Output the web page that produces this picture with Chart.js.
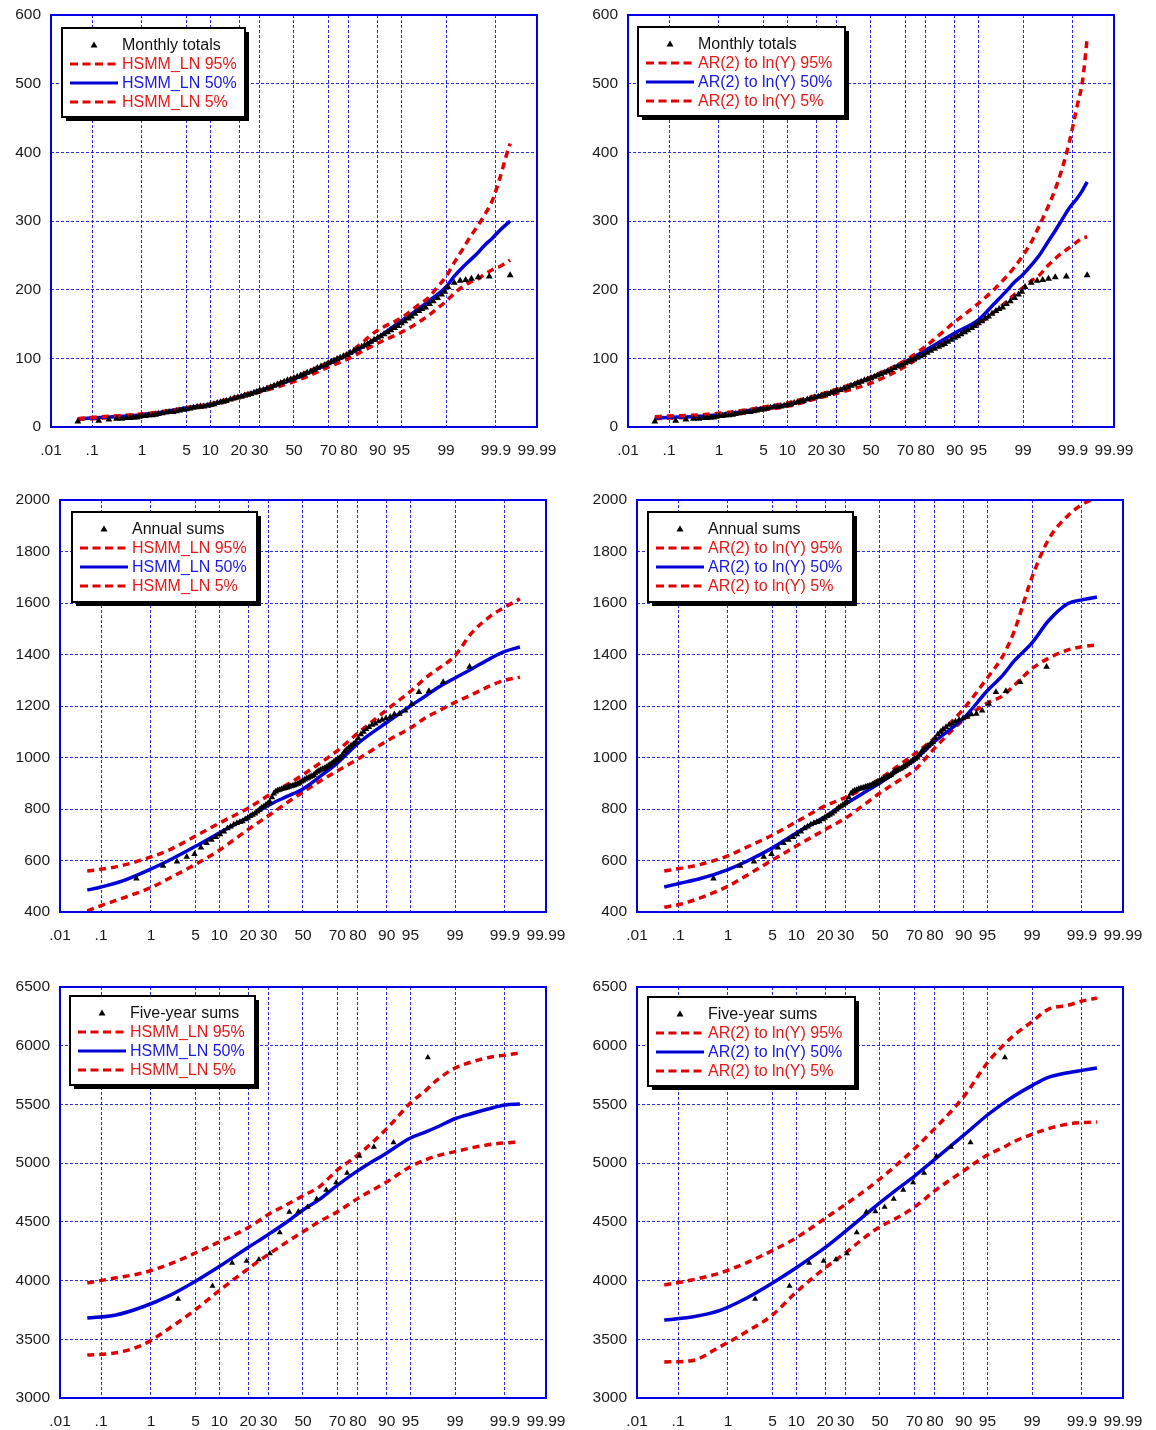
<!DOCTYPE html>
<html>
<head>
<meta charset="utf-8">
<script src="https://cdn.jsdelivr.net/npm/chart.js@4.4.1/dist/chart.umd.min.js"></script>
<style>
  body { margin: 0; background: #fff; width: 1156px; height: 1430px; position: relative; overflow: hidden; }
  .panel { position: absolute; }
</style>
</head>
<body>
<div class="panel" style="left:1px;top:0px"><canvas id="c0" width="561" height="465"></canvas></div>
<div class="panel" style="left:578px;top:0px"><canvas id="c1" width="561" height="465"></canvas></div>
<div class="panel" style="left:10px;top:485px"><canvas id="c2" width="561" height="465"></canvas></div>
<div class="panel" style="left:587px;top:485px"><canvas id="c3" width="561" height="465"></canvas></div>
<div class="panel" style="left:10px;top:972px"><canvas id="c4" width="561" height="464"></canvas></div>
<div class="panel" style="left:587px;top:972px"><canvas id="c5" width="561" height="464"></canvas></div>
<script>
// probability axis: ticks in percent, drawn on a normal-quantile scale
const X_TICK_P = [0.01, 0.1, 1, 5, 10, 20, 30, 50, 70, 80, 90, 95, 99, 99.9, 99.99];
const X_TICK_LABELS = ['.01', '.1', '1', '5', '10', '20', '30', '50', '70', '80', '90', '95', '99', '99.9', '99.99'];

// ---- monthly totals ----
const MONTHLY_OBS_P = [0.047, 0.14, 0.23, 0.33, 0.42, 0.52, 0.61, 0.7, 0.8, 0.9, 1.0, 1.15, 1.3, 1.5, 1.7, 1.9,
  2.2, 2.5, 2.8, 3.2, 3.6, 4.0, 4.5, 5.0, 5.6, 6.2, 6.9, 7.6, 8.4, 9.2, 10, 11, 12, 13, 14, 15, 16.5, 18, 19.5,
  21, 22.5, 24, 25.5, 27, 28.5, 30, 32, 34, 36, 38, 40, 42, 44, 46, 48, 50, 52, 54, 56, 58, 60, 62, 64, 66, 68,
  70, 71.5, 73, 74.5, 76, 77.5, 79, 80.5, 82, 83.5, 85, 86, 87, 88, 89, 90, 90.8, 91.6, 92.4, 93.1, 93.8, 94.4,
  95, 95.5, 96, 96.4, 96.8, 97.2, 97.5, 97.8, 98.1, 98.35, 98.6, 98.8, 98.95, 99.08, 99.29, 99.45, 99.57, 99.67,
  99.76, 99.86, 99.953];
const MONTHLY_OBS = [8, 9, 11, 12, 12, 13, 13, 14, 14, 15, 16, 16, 17, 17, 18, 19,
  20, 21, 22, 22, 23, 24, 25, 26, 27, 28, 29, 30, 30, 31, 32, 33, 35, 36, 37, 38, 40, 42, 43,
  44, 46, 47, 48, 50, 51, 53, 54, 56, 58, 60, 62, 64, 66, 68, 69, 71, 73, 75, 77, 79, 81, 83, 86, 88, 90,
  93, 95, 97, 99, 101, 103, 105, 108, 111, 114, 117, 119, 121, 124, 127, 130, 132, 135, 138, 141, 144, 147,
  151, 154, 158, 161, 165, 169, 172, 174, 179, 183, 188, 193, 197, 204, 210, 213, 214, 216,
  218, 219, 221];
const MONTHLY_MODEL_P = [0.047, 0.1, 0.3, 1, 2, 5, 10, 20, 30, 50, 70, 80, 90, 95, 97, 98, 98.6, 99, 99.3, 99.5,
  99.65, 99.75, 99.82, 99.88, 99.92, 99.94, 99.953];
const HSMM_MONTHLY_95 = [12, 14, 16, 19, 22, 28, 34, 45, 54, 72, 94, 108, 141, 159, 176, 188, 204, 219, 240, 258, 277, 292, 308, 330, 364, 392, 413];
const HSMM_MONTHLY_50 = [12, 13, 15, 18, 21, 28, 33, 44, 53, 70, 92, 106, 130, 155, 170, 183, 193, 204, 220, 232, 243, 253, 264, 275, 287, 294, 300];
const HSMM_MONTHLY_5 = [11, 12, 14, 16, 20, 26, 31, 43, 51, 66, 87, 100, 122, 138, 151, 162, 173, 183, 195, 204, 211, 215, 222, 229, 234, 239, 243];
const AR2_MONTHLY_95 = [15, 16, 17, 20, 23, 29, 35, 46, 55, 73, 97, 118, 153, 180, 200, 217, 233, 250, 270, 293, 318, 343, 372, 415, 468, 505, 565];
const AR2_MONTHLY_50 = [13, 14, 15, 18, 21, 28, 33, 44, 53, 72, 95, 112, 137, 156, 179, 196, 211, 222, 236, 250, 268, 284, 300, 319, 333, 345, 357];
const AR2_MONTHLY_5 = [12, 13, 14, 16, 19, 25, 30, 41, 49, 64, 88, 108, 132, 150, 167, 181, 193, 203, 213, 221, 234, 244, 253, 261, 270, 275, 277];

// ---- annual sums ----
const ANNUAL_OBS_P = [0.54, 1.61, 2.69, 3.76, 4.84, 5.91, 6.99, 8.06, 9.14, 10.2, 11.3, 12.4, 13.4, 14.5, 15.6,
  16.7, 17.7, 18.8, 19.9, 21.0, 22.0, 23.1, 24.2, 25.3, 26.3, 27.4, 28.5, 29.6, 30.6, 31.7, 32.8, 33.9, 34.9,
  36.0, 37.1, 38.2, 39.2, 40.3, 41.4, 42.5, 43.5, 44.6, 45.7, 46.8, 47.8, 48.9, 50, 51.1, 52.2, 53.2, 54.3,
  55.4, 56.5, 57.5, 58.6, 59.7, 60.8, 61.8, 62.9, 64.0, 65.1, 66.1, 67.2, 68.3, 69.4, 70.4, 71.5, 72.6, 73.7,
  74.7, 75.8, 76.9, 78.0, 79.0, 80.1, 81.2, 82.3, 83.3, 84.4, 85.5, 86.6, 87.6, 88.7, 89.8, 90.9, 91.9, 93.0,
  94.1, 95.2, 96.2, 97.3, 98.4, 99.46];
const ANNUAL_OBS = [530, 579, 596, 614, 625, 650, 668, 680, 691, 702, 712, 725, 732, 740, 745,
  749, 752, 760, 766, 772, 777, 782, 790, 798, 805, 810, 816, 822, 828, 845, 860, 868, 872,
  874, 877, 879, 881, 883, 886, 888, 890, 892, 895, 898, 902, 906, 910, 914, 918, 921, 925,
  928, 932, 938, 944, 948, 952, 955, 958, 963, 968, 973, 978, 984, 990, 995, 1000, 1010, 1022,
  1030, 1038, 1046, 1052, 1060, 1075, 1090, 1100, 1110, 1118, 1127, 1132, 1140, 1146, 1152, 1158, 1168, 1170,
  1182, 1208, 1254, 1258, 1293, 1352];
const ANNUAL_MODEL_P = [0.048, 0.1, 0.3, 1, 2, 5, 10, 20, 30, 40, 50, 60, 70, 80, 90, 95, 97, 98, 99, 99.5, 99.8, 99.9, 99.955];
const HSMM_ANNUAL_95 = [559, 566, 582, 614, 640, 695, 745, 803, 853, 893, 933, 977, 1026, 1095, 1185, 1257, 1310, 1342, 1395, 1482, 1551, 1584, 1616];
const HSMM_ANNUAL_50 = [485, 497, 522, 567, 600, 655, 707, 768, 815, 848, 878, 925, 978, 1055, 1136, 1200, 1240, 1270, 1309, 1343, 1386, 1412, 1429];
const HSMM_ANNUAL_5 = [404, 425, 455, 495, 530, 585, 640, 720, 775, 823, 866, 907, 948, 994, 1064, 1115, 1155, 1178, 1214, 1243, 1280, 1300, 1312];
const AR2_ANNUAL_95 = [559, 568, 585, 618, 650, 699, 750, 812, 845, 880, 918, 963, 1013, 1077, 1190, 1310, 1395, 1490, 1700, 1845, 1940, 1982, 2010];
const AR2_ANNUAL_50 = [497, 510, 530, 565, 595, 649, 707, 770, 820, 862, 901, 945, 990, 1063, 1153, 1260, 1320, 1375, 1445, 1530, 1598, 1612, 1623];
const AR2_ANNUAL_5 = [419, 428, 455, 500, 540, 602, 656, 720, 765, 815, 862, 905, 950, 1038, 1147, 1212, 1240, 1280, 1345, 1385, 1418, 1430, 1437];

// ---- five-year sums ----
const FIVEYR_OBS_P = [2.8, 8.3, 13.9, 19.4, 25, 30.6, 36.1, 41.7, 47.2, 52.8, 58.3, 63.9, 69.4, 75, 80.6, 86.1, 91.7, 97.2];
const FIVEYR_OBS = [3843, 3954, 4150, 4167, 4180, 4230, 4410, 4584, 4588, 4626, 4694, 4771, 4835, 4916, 5061, 5137, 5175, 5900];
const FIVEYR_MODEL_P = [0.048, 0.2, 0.7, 2, 5, 10, 20, 30, 40, 50, 60, 70, 80, 90, 95, 97, 98, 99, 99.5, 99.8, 99.9, 99.955];
const HSMM_FIVEYR_95 = [3979, 4022, 4064, 4138, 4235, 4330, 4450, 4565, 4645, 4722, 4800, 4941, 5070, 5293, 5512, 5620, 5709, 5810, 5861, 5904, 5920, 5938];
const HSMM_FIVEYR_50 = [3681, 3705, 3775, 3870, 3995, 4120, 4281, 4395, 4497, 4601, 4691, 4810, 4936, 5087, 5214, 5266, 5308, 5378, 5421, 5468, 5495, 5503];
const HSMM_FIVEYR_5 = [3366, 3383, 3451, 3590, 3753, 3915, 4100, 4225, 4325, 4416, 4503, 4585, 4700, 4840, 4970, 5030, 5062, 5098, 5130, 5160, 5172, 5180];
const AR2_FIVEYR_95 = [3962, 4005, 4063, 4149, 4256, 4364, 4530, 4650, 4757, 4866, 4985, 5121, 5296, 5566, 5855, 6000, 6090, 6205, 6310, 6345, 6380, 6406];
const AR2_FIVEYR_50 = [3664, 3690, 3744, 3847, 3979, 4109, 4280, 4421, 4546, 4663, 4775, 4888, 5034, 5238, 5410, 5507, 5572, 5660, 5730, 5770, 5790, 5810];
const AR2_FIVEYR_5 = [3307, 3318, 3434, 3561, 3707, 3902, 4107, 4237, 4359, 4459, 4532, 4624, 4766, 4935, 5070, 5132, 5184, 5245, 5294, 5332, 5345, 5350];

const FONT = '"Liberation Sans", Arial, Helvetica, sans-serif';
const RED = 'rgb(225,0,0)';
const BLUE = 'rgb(0,0,215)';
const GRID = 'rgba(20,20,235,0.9)';

// inverse normal cdf (Acklam)
function probit(p) {
  const a = [-39.69683028665376, 220.9460984245205, -275.9285104469687, 138.3577518672690, -30.66479806614716, 2.506628277459239];
  const b = [-54.47609879822406, 161.5858368580409, -155.6989798598866, 66.80131188771972, -13.28068155288572];
  const c = [-0.007784894002430293, -0.3223964580411365, -2.400758277161838, -2.549732539343734, 4.374664141464968, 2.938163982698783];
  const d = [0.007784695709041462, 0.3224671290700398, 2.445134137142996, 3.754408661907416];
  const lo = 0.02425;
  if (p < lo) {
    const q = Math.sqrt(-2 * Math.log(p));
    return (((((c[0]*q+c[1])*q+c[2])*q+c[3])*q+c[4])*q+c[5]) / ((((d[0]*q+d[1])*q+d[2])*q+d[3])*q+1);
  }
  if (p > 1 - lo) {
    const q = Math.sqrt(-2 * Math.log(1 - p));
    return -(((((c[0]*q+c[1])*q+c[2])*q+c[3])*q+c[4])*q+c[5]) / ((((d[0]*q+d[1])*q+d[2])*q+d[3])*q+1);
  }
  const q = p - 0.5, r = q * q;
  return (((((a[0]*r+a[1])*r+a[2])*r+a[3])*r+a[4])*r+a[5])*q / (((((b[0]*r+b[1])*r+b[2])*r+b[3])*r+b[4])*r+1);
}

const pts = (ps, vs) => ps.map((p, i) => ({ x: probit(p / 100), y: vs[i] }));

const framePlugin = {
  id: 'frame',
  afterDraw(chart) {
    const { ctx, chartArea: a } = chart;
    ctx.save();
    ctx.strokeStyle = 'rgb(0,0,230)';
    ctx.lineWidth = 2;
    ctx.strokeRect(a.left, a.top, a.right - a.left, a.bottom - a.top);
    ctx.restore();
  }
};

const boxLegend = {
  id: 'boxLegend',
  afterDraw(chart, args, o) {
    const { ctx, chartArea: a } = chart;
    const x = a.left + o.dx, y = a.top + o.dy;
    ctx.save();
    ctx.fillStyle = '#000';
    ctx.fillRect(x + 4, y + 4, o.w, o.h);
    ctx.fillStyle = '#fff';
    ctx.fillRect(x, y, o.w, o.h);
    ctx.strokeStyle = '#000';
    ctx.lineWidth = 2;
    ctx.strokeRect(x, y, o.w, o.h);
    ctx.font = '16px ' + FONT;
    ctx.textBaseline = 'middle';
    chart.data.datasets.forEach((ds, i) => {
      const ry = y + 17 + i * 19;
      const lx = x + 8;
      if (ds.showLine === false) {
        ctx.fillStyle = '#000';
        ctx.beginPath();
        ctx.moveTo(lx + 24, ry - 3.5);
        ctx.lineTo(lx + 27.5, ry + 2.5);
        ctx.lineTo(lx + 20.5, ry + 2.5);
        ctx.closePath();
        ctx.fill();
      } else {
        ctx.strokeStyle = ds.borderColor;
        ctx.lineWidth = 3;
        ctx.setLineDash(ds.borderDash.length ? [8, 4.5] : []);
        ctx.beginPath();
        ctx.moveTo(lx, ry);
        ctx.lineTo(lx + 48, ry);
        ctx.stroke();
        ctx.setLineDash([]);
      }
      ctx.fillStyle = ds.textColor;
      ctx.fillText(ds.label, x + 60, ry + 1);
    });
    ctx.restore();
  }
};

function makePanel(id, cfg) {
  const tickFont = { family: FONT, size: 15.5 };
  const model = (label, vals, color, dash, textColor) => ({
    label, data: pts(cfg.modelP, vals), showLine: true, borderColor: color, backgroundColor: color,
    borderWidth: 3.5, borderDash: dash, pointRadius: 0, fill: false,
    cubicInterpolationMode: 'monotone', textColor
  });
  new Chart(document.getElementById(id), {
    type: 'line',
    data: {
      datasets: [
        { label: cfg.obsLabel, data: pts(cfg.obsP, cfg.obs), showLine: false, pointStyle: 'triangle',
          pointRadius: cfg.pointR, pointBorderWidth: 0, backgroundColor: '#000', borderColor: '#000', textColor: '#111' },
        model(cfg.model + ' 95%', cfg.m95, RED, [7, 5], 'rgb(230,25,25)'),
        model(cfg.model + ' 50%', cfg.m50, BLUE, [], 'rgb(25,25,225)'),
        model(cfg.model + ' 5%', cfg.m5, RED, [7, 5], 'rgb(230,25,25)')
      ]
    },
    options: {
      responsive: false,
      animation: false,
      devicePixelRatio: 1,
      layout: { padding: { top: 15, right: 25, left: 0, bottom: 0 } },
      plugins: { legend: { display: false }, tooltip: { enabled: false }, boxLegend: cfg.legend },
      scales: {
        x: {
          type: 'linear', min: probit(0.0001), max: probit(0.9999),
          afterBuildTicks: s => { s.ticks = X_TICK_P.map(p => ({ value: probit(p / 100) })); },
          afterFit: s => { s.height = 38; s.paddingLeft = 0; s.paddingRight = 0; },
          ticks: { autoSkip: false, maxRotation: 0, minRotation: 0, padding: 14, color: '#1a1a1a', font: tickFont,
            callback: (v, i) => X_TICK_LABELS[i] },
          grid: { color: GRID, lineWidth: 1, drawTicks: false },
          border: { display: false, dash: [3, 2] }
        },
        y: {
          type: 'linear', min: cfg.yMin, max: cfg.yMax,
          afterFit: s => { s.width = 50; s.paddingTop = 0; s.paddingBottom = 0; },
          ticks: { stepSize: cfg.yStep, padding: 10, color: '#1a1a1a', font: tickFont, callback: v => String(v) },
          grid: { color: GRID, lineWidth: 1, drawTicks: false },
          border: { display: false, dash: [3, 2] }
        }
      }
    },
    plugins: [framePlugin, boxLegend]
  });
}

makePanel('c0', { obsLabel: 'Monthly totals', model: 'HSMM_LN', obsP: MONTHLY_OBS_P, obs: MONTHLY_OBS, pointR: 4,
  modelP: MONTHLY_MODEL_P, m95: HSMM_MONTHLY_95, m50: HSMM_MONTHLY_50, m5: HSMM_MONTHLY_5,
  yMin: 0, yMax: 600, yStep: 100, legend: { dx: 11, dy: 13, w: 183, h: 89 } });
makePanel('c1', { obsLabel: 'Monthly totals', model: 'AR(2) to ln(Y)', obsP: MONTHLY_OBS_P, obs: MONTHLY_OBS, pointR: 4,
  modelP: MONTHLY_MODEL_P, m95: AR2_MONTHLY_95, m50: AR2_MONTHLY_50, m5: AR2_MONTHLY_5,
  yMin: 0, yMax: 600, yStep: 100, legend: { dx: 10, dy: 12, w: 207, h: 89 } });
makePanel('c2', { obsLabel: 'Annual sums', model: 'HSMM_LN', obsP: ANNUAL_OBS_P, obs: ANNUAL_OBS, pointR: 3.8,
  modelP: ANNUAL_MODEL_P, m95: HSMM_ANNUAL_95, m50: HSMM_ANNUAL_50, m5: HSMM_ANNUAL_5,
  yMin: 400, yMax: 2000, yStep: 200, legend: { dx: 12, dy: 12, w: 185, h: 90 } });
makePanel('c3', { obsLabel: 'Annual sums', model: 'AR(2) to ln(Y)', obsP: ANNUAL_OBS_P, obs: ANNUAL_OBS, pointR: 3.8,
  modelP: ANNUAL_MODEL_P, m95: AR2_ANNUAL_95, m50: AR2_ANNUAL_50, m5: AR2_ANNUAL_5,
  yMin: 400, yMax: 2000, yStep: 200, legend: { dx: 11, dy: 12, w: 205, h: 90 } });
makePanel('c4', { obsLabel: 'Five-year sums', model: 'HSMM_LN', obsP: FIVEYR_OBS_P, obs: FIVEYR_OBS, pointR: 3.5,
  modelP: FIVEYR_MODEL_P, m95: HSMM_FIVEYR_95, m50: HSMM_FIVEYR_50, m5: HSMM_FIVEYR_5,
  yMin: 3000, yMax: 6500, yStep: 500, legend: { dx: 10, dy: 9, w: 185, h: 89 } });
makePanel('c5', { obsLabel: 'Five-year sums', model: 'AR(2) to ln(Y)', obsP: FIVEYR_OBS_P, obs: FIVEYR_OBS, pointR: 3.5,
  modelP: FIVEYR_MODEL_P, m95: AR2_FIVEYR_95, m50: AR2_FIVEYR_50, m5: AR2_FIVEYR_5,
  yMin: 3000, yMax: 6500, yStep: 500, legend: { dx: 11, dy: 10, w: 207, h: 89 } });
</script>
</body>
</html>
